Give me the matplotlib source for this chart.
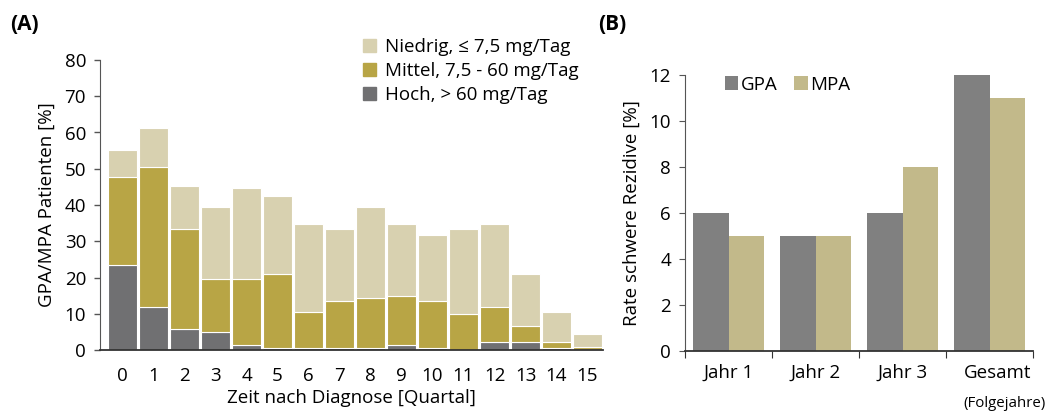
import numpy as np
import matplotlib
matplotlib.use("Agg")
import matplotlib.pyplot as plt
from matplotlib.patches import Patch

plt.rcParams['font.family'] = ['Open Sans', 'DejaVu Sans']

# ---------------------------------------------------------------------------
# DATA
# ---------------------------------------------------------------------------
quartale = list(range(16))
# top of each stacked segment (cumulative values)
hoch = [23.4, 12.0, 5.8, 5.1, 1.4, 0.6, 0.6, 0.6, 0.6, 1.4, 0.6, 0.0, 2.2, 2.2, 0.5, 0.0]
mittel_top = [47.6, 50.6, 33.4, 19.6, 19.6, 21.0, 10.5, 13.5, 14.3, 15.0, 13.5, 9.8, 12.0, 6.6, 2.2, 0.7]
gesamt = [55.2, 61.3, 45.3, 39.4, 44.6, 42.4, 34.7, 33.3, 39.4, 34.7, 31.7, 33.3, 34.7, 21.1, 10.5, 4.4]

mittel = [m - h for m, h in zip(mittel_top, hoch)]
niedrig = [g - m for g, m in zip(gesamt, mittel_top)]

legend_a = ['Niedrig, \u2264 7,5 mg/Tag', 'Mittel, 7,5 - 60 mg/Tag', 'Hoch, > 60 mg/Tag']

jahre = ['Jahr 1', 'Jahr 2', 'Jahr 3', 'Gesamt']
gpa = [6, 5, 6, 12]
mpa = [5, 5, 8, 11]

C_NIEDRIG = '#d8d1b0'
C_MITTEL = '#b8a545'
C_HOCH = '#707072'
C_GPA = '#808080'
C_MPA = '#c2b98a'

FS = 13.5

W, H = 1055, 415
fig = plt.figure(figsize=(W / 100, H / 100), dpi=100)


def px_axes(left, top, right, bottom):
    return fig.add_axes([left / W, 1 - bottom / H, (right - left) / W, (bottom - top) / H])


# ---------------------------------------------------------------------------
# PANEL A
# ---------------------------------------------------------------------------
ax = px_axes(100, 60, 603, 350)
x = np.array(quartale)
kw = dict(width=0.95, edgecolor='white', linewidth=0.8)
ax.bar(x, hoch, color=C_HOCH, **kw)
ax.bar(x, mittel, bottom=hoch, color=C_MITTEL, **kw)
ax.bar(x, niedrig, bottom=mittel_top, color=C_NIEDRIG, **kw)

ax.set_xlim(-0.73, 15.5)
ax.set_ylim(0, 80)
ax.set_yticks(range(0, 81, 10))
ax.set_xticks(x)
ax.tick_params(axis='x', length=0, pad=12, labelsize=FS)
ax.tick_params(axis='y', length=4, width=1, color='#555555', labelsize=FS, pad=6)
for s in ['top', 'right']:
    ax.spines[s].set_visible(False)
ax.spines['left'].set_color('#555555')
ax.spines['bottom'].set_color('#333333')
ax.spines['bottom'].set_linewidth(1.3)
ax.set_xlabel('Zeit nach Diagnose [Quartal]', fontsize=FS, labelpad=3)
ax.set_ylabel('GPA/MPA Patienten [%]', fontsize=FS, labelpad=6)

handles = [Patch(color=c) for c in [C_NIEDRIG, C_MITTEL, C_HOCH]]
ax.legend(handles, legend_a, loc='upper left', bbox_to_anchor=(0.507, 1.103),
          frameon=False, fontsize=FS, handlelength=0.7, handleheight=0.7,
          handletextpad=0.5, labelspacing=0.32, borderaxespad=0)

fig.text(10 / W, 1 - 25 / H, '(A)', fontsize=15, fontweight='bold', va='center')

# ---------------------------------------------------------------------------
# PANEL B
# ---------------------------------------------------------------------------
bx = px_axes(685, 75, 1033, 351)
pos = np.arange(len(jahre)) + 0.5
bw = 0.41
bx.bar(pos - bw / 2, gpa, width=bw, color=C_GPA, label='GPA')
bx.bar(pos + bw / 2, mpa, width=bw, color=C_MPA, label='MPA')
bx.set_xlim(0, 4)
bx.set_ylim(0, 12)
bx.set_yticks(range(0, 13, 2))
bx.set_xticks(range(5))
bx.set_xticklabels([])
bx.tick_params(axis='x', direction='out', length=5, color='#333333')
bx.tick_params(axis='y', length=4, color='#555555', labelsize=FS, pad=6)
for s in ['top', 'right']:
    bx.spines[s].set_visible(False)
bx.spines['left'].set_color('#555555')
bx.spines['bottom'].set_color('#333333')
bx.spines['bottom'].set_linewidth(1.3)
bx.set_ylabel('Rate schwere Rezidive [%]', fontsize=FS, labelpad=6)

trans = bx.get_xaxis_transform()
for p, lab in zip(pos[:-1], jahre[:-1]):
    bx.text(p, -0.08, lab, transform=trans, ha='center', va='center', fontsize=FS)
# the last category label is left aligned with its note below
bx.text(3.2, -0.08, jahre[-1], transform=trans, ha='left', va='center', fontsize=FS)
bx.text(3.2, -0.19, '(Folgejahre)', transform=trans, ha='left', va='center', fontsize=10.8)

bx.legend(loc='upper left', bbox_to_anchor=(0.093, 1.025), ncol=2, frameon=False,
          fontsize=FS, handlelength=0.7, handleheight=0.7, handletextpad=0.15,
          columnspacing=0.9, borderaxespad=0)

fig.text(598 / W, 1 - 25 / H, '(B)', fontsize=15, fontweight='bold', va='center')

fig.savefig('out.png', dpi=100)
